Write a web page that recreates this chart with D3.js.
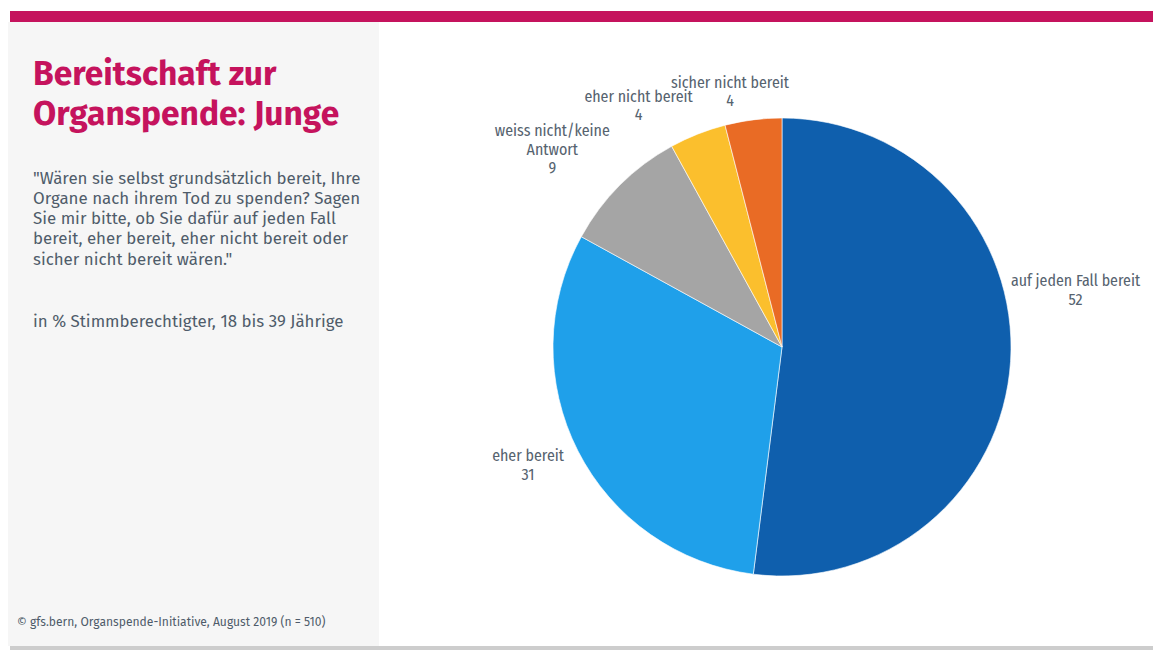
<!DOCTYPE html>
<html>
<head>
<meta charset="utf-8">
<script src="https://cdn.jsdelivr.net/npm/d3@7/dist/d3.min.js"></script>
<style>
  html, body { margin: 0; padding: 0; background: #ffffff; }
  svg { display: block; }
</style>
</head>
<body>
<svg id="chart" width="1153" height="650"></svg>
<script>
// Survey answers, in drawing order (clockwise from 12 o'clock)
const categories = [
  "auf jeden Fall bereit",
  "eher bereit",
  "weiss nicht/keine Antwort",
  "eher nicht bereit",
  "sicher nicht bereit"
];
const values = [52, 31, 9, 4, 4];
// Label lines per slice (category name may wrap)
const labelLines = [
  ["auf jeden Fall bereit"],
  ["eher bereit"],
  ["weiss nicht/keine", "Antwort"],
  ["eher nicht bereit"],
  ["sicher nicht bereit"]
];
const sliceColors = ["#0f5fad", "#1fa0ea", "#a5a5a5", "#fbbf2d", "#e96b25"];

const titleLines = ["Bereitschaft zur", "Organspende: Junge"];
const questionLines = [
  "\"Wären sie selbst grundsätzlich bereit, Ihre",
  "Organe nach ihrem Tod zu spenden? Sagen",
  "Sie mir bitte, ob Sie dafür auf jeden Fall",
  "bereit, eher bereit, eher nicht bereit oder",
  "sicher nicht bereit wären.\""
];
const baseNote = "in % Stimmberechtigter, 18 bis 39 Jährige";
const sourceNote = "© gfs.bern, Organspende-Initiative, August 2019 (n = 510)";

// Label placement around the pie: polar angle (degrees from top, clockwise) and distance
const labelPlacement = [
  { angle: 79.0, dist: 299 },
  { angle: 245.1, dist: 280 },
  { angle: 310.7, dist: 303 },
  { angle: 329.3, dist: 281 },
  { angle: 348.5, dist: 261 }
];

const svg = d3.select("#chart");
const W = 1153, H = 650;
const magenta = "#c5135d";
const textGrey = "#56636f";
const bodyGrey = "#4f5c6a";
const sans = "'Fira Sans', 'Open Sans', sans-serif";

// top accent bar
svg.append("rect").attr("x", 10).attr("y", 11).attr("width", W - 10).attr("height", 11).attr("fill", magenta);
// left info panel
svg.append("rect").attr("x", 8).attr("y", 22).attr("width", 371).attr("height", 624).attr("fill", "#f6f6f6");
// bottom rule
svg.append("rect").attr("x", 10).attr("y", 646).attr("width", W - 10).attr("height", 4).attr("fill", "#cdcdcd");

// title
const title = svg.append("text")
  .attr("font-family", sans)
  .attr("font-weight", 700)
  .attr("font-size", 33.6)
  .attr("fill", magenta);
title.selectAll("tspan").data(titleLines).join("tspan")
  .attr("x", 33).attr("y", (d, i) => 85 + i * 40).text(d => d);

// question text
const q = svg.append("text")
  .attr("font-family", sans)
  .attr("font-size", 16.9)
  .attr("fill", bodyGrey);
q.selectAll("tspan").data(questionLines).join("tspan")
  .attr("x", 33).attr("y", (d, i) => 183.5 + i * 20.3).text(d => d);

svg.append("text")
  .attr("x", 33).attr("y", 327)
  .attr("font-family", sans)
  .attr("font-size", 16.9)
  .attr("fill", bodyGrey)
  .text(baseNote);

svg.append("text")
  .attr("x", 17).attr("y", 626)
  .attr("font-family", sans)
  .attr("font-size", 12.1)
  .attr("fill", bodyGrey)
  .text(sourceNote);

// pie
const cx = 782, cy = 347, radius = 229;
const pie = d3.pie().sort(null).value(d => d)(values);
const arc = d3.arc().innerRadius(0).outerRadius(radius);
const color = d3.scaleOrdinal().domain(categories).range(sliceColors);

const g = svg.append("g").attr("transform", `translate(${cx},${cy})`);
g.selectAll("path.slice").data(pie).join("path")
  .attr("class", "slice")
  .attr("d", arc)
  .attr("fill", (d, i) => color(categories[i]))
  .attr("stroke", "#ffffff")
  .attr("stroke-width", 0.6);

// labels: category lines followed by the value
const lh = 18.5;
const labels = g.selectAll("text.lbl").data(pie).join("text")
  .attr("class", "lbl")
  .attr("font-family", "'Fira Sans Condensed', Roboto, sans-serif")
  .attr("font-size", 15.9)
  .attr("fill", textGrey)
  .attr("text-anchor", "middle");

labels.each(function(d, i) {
  const p = labelPlacement[i];
  const a = p.angle * Math.PI / 180;
  const x = Math.sin(a) * p.dist;
  const y = -Math.cos(a) * p.dist;
  const lines = labelLines[i].concat([String(d.data)]);
  const top = y - (lines.length - 1) * lh / 2 + 5.5;
  d3.select(this).selectAll("tspan").data(lines).join("tspan")
    .attr("x", x).attr("y", (t, k) => top + k * lh).text(t => t);
});
</script>
</body>
</html>
